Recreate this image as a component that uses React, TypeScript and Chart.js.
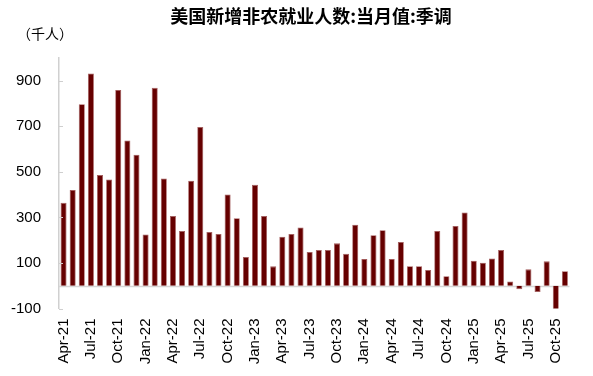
import React, { useEffect, useRef } from "react";
import { Chart, registerables } from "chart.js";

Chart.register(...registerables);

const TITLE = "美国新增非农就业人数:当月值:季调";
const UNIT = "（千人）";

const months: string[] = [
  "Apr-21", "May-21", "Jun-21", "Jul-21", "Aug-21", "Sep-21", "Oct-21", "Nov-21", "Dec-21",
  "Jan-22", "Feb-22", "Mar-22", "Apr-22", "May-22", "Jun-22", "Jul-22", "Aug-22", "Sep-22", "Oct-22", "Nov-22", "Dec-22",
  "Jan-23", "Feb-23", "Mar-23", "Apr-23", "May-23", "Jun-23", "Jul-23", "Aug-23", "Sep-23", "Oct-23", "Nov-23", "Dec-23",
  "Jan-24", "Feb-24", "Mar-24", "Apr-24", "May-24", "Jun-24", "Jul-24", "Aug-24", "Sep-24", "Oct-24", "Nov-24", "Dec-24",
  "Jan-25", "Feb-25", "Mar-25", "Apr-25", "May-25", "Jun-25", "Jul-25", "Aug-25", "Sep-25", "Oct-25", "Nov-25",
];

const payrolls: number[] = [
  364, 420, 797, 932, 486, 467, 859, 638, 575,
  225, 869, 471, 306, 240, 461, 697, 236, 227, 401, 296, 126,
  443, 306, 85, 215, 227, 256, 148, 157, 157, 186, 140, 268,
  117, 222, 244, 117, 192, 86, 86, 69, 240, 42, 262, 322,
  110, 101, 120, 157, 19, -15, 72, -28, 107, -107, 64,
];

const yTicks: number[] = [-100, 100, 300, 500, 700, 900];
const Y_MIN = -100;
const Y_MAX = 1000;

const overlay = {
  id: "overlay",
  beforeDatasetsDraw(chart: any) {
    const { ctx, chartArea, scales } = chart;
    const y0 = Math.round(scales.y.getPixelForValue(0)) + 0.5;
    ctx.save();
    ctx.strokeStyle = "#d6d6d6";
    ctx.lineWidth = 1.5;
    ctx.beginPath();
    ctx.moveTo(chartArea.left, y0);
    ctx.lineTo(chartArea.right, y0);
    ctx.stroke();
    ctx.restore();
  },
  afterDraw(chart: any) {
    const { ctx, chartArea, scales } = chart;
    ctx.save();
    ctx.strokeStyle = "#cfcfcf";
    ctx.lineWidth = 1;
    yTicks.forEach((v) => {
      const y = Math.round(scales.y.getPixelForValue(v)) + 0.5;
      ctx.beginPath();
      ctx.moveTo(chartArea.left, y);
      ctx.lineTo(chartArea.left + 4, y);
      ctx.stroke();
    });
    ctx.fillStyle = "#000";
    ctx.textAlign = "center";
    ctx.textBaseline = "middle";
    ctx.font = "bold 18px 'Noto Sans CJK SC', sans-serif";
    ctx.fillText(TITLE, 311, 16);
    ctx.font = "14px 'Noto Sans CJK SC', sans-serif";
    ctx.textAlign = "center";
    ctx.fillText(UNIT, 45, 34);
    ctx.restore();
  },
};

export default function App() {
  const ref = useRef<HTMLCanvasElement | null>(null);

  useEffect(() => {
    document.body.style.margin = "0";
    const canvas = ref.current;
    if (!canvas) return;
    const chart = new Chart(canvas, {
      type: "bar",
      data: {
        labels: months,
        datasets: [
          {
            data: payrolls,
            backgroundColor: "#660000",
            borderColor: "#a25a5a",
            borderWidth: 0.8,
            barPercentage: 0.66,
            categoryPercentage: 1,
          },
        ],
      },
      options: {
        responsive: false,
        animation: false,
        devicePixelRatio: 1,
        layout: { padding: { left: 0, right: 12, top: 58, bottom: 0 } },
        plugins: {
          legend: { display: false },
          title: { display: false },
          tooltip: { enabled: false },
        },
        scales: {
          x: {
            grid: { display: false, drawTicks: false },
            border: { display: false },
            afterFit(scale: any) {
              scale.height = 67.5;
            },
            ticks: {
              autoSkip: false,
              maxRotation: 90,
              minRotation: 90,
              padding: 10,
              color: "#000",
              font: { family: "'Liberation Sans', Arial, sans-serif", size: 15 },
              callback: (_v: any, i: number) => (i % 3 === 0 ? months[i] : ""),
            },
          },
          y: {
            min: Y_MIN,
            max: Y_MAX,
            grid: { display: false, drawTicks: false },
            border: { display: true, color: "#d0d0d0", width: 1.5 },
            afterBuildTicks(scale: any) {
              scale.ticks = yTicks.map((v) => ({ value: v }));
            },
            afterFit(scale: any) {
              scale.width = 59;
            },
            ticks: {
              padding: 18,
              color: "#000",
              font: { family: "'Liberation Sans', Arial, sans-serif", size: 15 },
            },
          },
        },
      },
      plugins: [overlay],
    });
    return () => chart.destroy();
  }, []);

  return (
    <div style={{ width: 593, height: 376, position: "relative" }}>
      <canvas ref={ref} width={593} height={376} style={{ display: "block" }} />
    </div>
  );
}
